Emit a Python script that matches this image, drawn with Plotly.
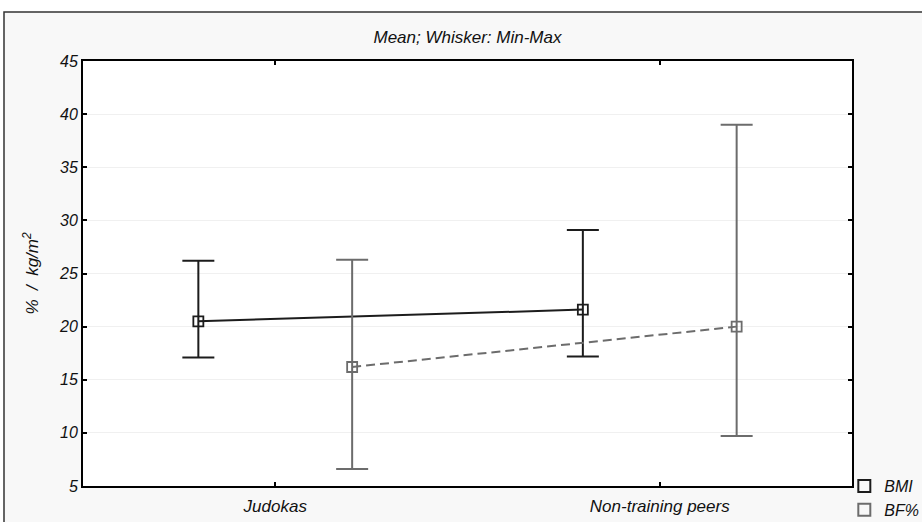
import plotly.graph_objects as go

# Group labels and the two measured variables
groups = ["Judokas", "Non-training peers"]
series_names = ["BMI", "BF%"]

# Mean, minimum and maximum for each variable per group
bmi_mean = [20.5, 21.6]
bmi_min = [17.1, 17.2]
bmi_max = [26.2, 29.1]

bf_mean = [16.2, 20.0]
bf_min = [6.6, 9.7]
bf_max = [26.3, 39.0]

y_ticks = [5, 10, 15, 20, 25, 30, 35, 40, 45]

FONT = "Liberation Sans, Arial, sans-serif"
BMI_COLOR = "#1c1c1c"
BF_COLOR = "#6c6c6c"

idx = list(range(len(groups)))
offset = 0.2

fig = go.Figure()


def add_series(name, means, mins, maxs, shift, color, dash, lw):
    xs = [i + shift for i in idx]
    fig.add_trace(go.Scatter(
        x=xs, y=means, name=name, mode="lines+markers", showlegend=False,
        line=dict(color=color, width=lw, dash=dash),
        marker=dict(symbol="square-open", size=10, color=color,
                    line=dict(color=color, width=1.8)),
        error_y=dict(type="data", symmetric=False,
                     array=[mx - m for mx, m in zip(maxs, means)],
                     arrayminus=[m - mn for mn, m in zip(mins, means)],
                     color=color, thickness=2, width=16),
    ))
    # legend entry
    fig.add_trace(go.Scatter(
        x=[None], y=[None], name=name, mode="markers",
        marker=dict(symbol="square-open", size=9, color=color,
                    line=dict(color=color, width=1.8)),
    ))


add_series(series_names[0], bmi_mean, bmi_min, bmi_max, -offset, BMI_COLOR, "solid", 2)
add_series(series_names[1], bf_mean, bf_min, bf_max, offset, BF_COLOR, "9px,5px", 2)

# light gray frame around the whole chart, white plot area on top
fig.add_shape(type="rect", xref="paper", yref="paper",
              x0=-79 / 769, x1=1.2, y0=-0.2, y1=1 + 49 / 425,
              fillcolor="#f8f8f8", line=dict(color="#333333", width=1.5),
              layer="below")
fig.add_shape(type="rect", xref="x domain", yref="y domain",
              x0=0, x1=1, y0=0, y1=1, fillcolor="white",
              line=dict(width=0), layer="below")

fig.update_layout(
    width=922, height=522,
    margin=dict(l=83, r=70, t=61, b=36, autoexpand=False),
    paper_bgcolor="white", plot_bgcolor="white",
    font=dict(family=FONT, size=17, color="#111111", style="italic"),
    title=dict(text="Mean; Whisker: Min-Max", x=(83 + 384.5) / 922, xanchor="center",
               y=1 - 37 / 522, yanchor="middle",
               font=dict(family=FONT, size=17, color="#111111", style="italic")),
    xaxis=dict(range=[-0.5, 1.5], tickvals=idx, ticktext=groups,
               showline=True, linecolor="#000000", linewidth=2, mirror="ticks",
               ticks="inside", ticklen=4, tickwidth=1.5, tickcolor="#000000",
               showgrid=False, zeroline=False, ticklabelstandoff=4,
               tickfont=dict(size=17, style="italic")),
    yaxis=dict(range=[5, 45], tickvals=y_ticks,
               showline=True, linecolor="#000000", linewidth=2, mirror="ticks",
               ticks="inside", ticklen=4, tickwidth=1.5, tickcolor="#000000",
               showgrid=True, gridcolor="#f0f0f0", gridwidth=1, zeroline=False,
               tickfont=dict(size=16, style="italic"),
               title=dict(text="%  /  kg/m<sup>2</sup>", standoff=16,
                          font=dict(size=17, style="italic"))),
    legend=dict(x=0.99, xanchor="left", y=0.04, yanchor="top",
                bgcolor="rgba(0,0,0,0)", borderwidth=0,
                font=dict(size=16, style="italic"), tracegroupgap=0,
                itemsizing="constant"),
)

fig.write_html("out.html")
